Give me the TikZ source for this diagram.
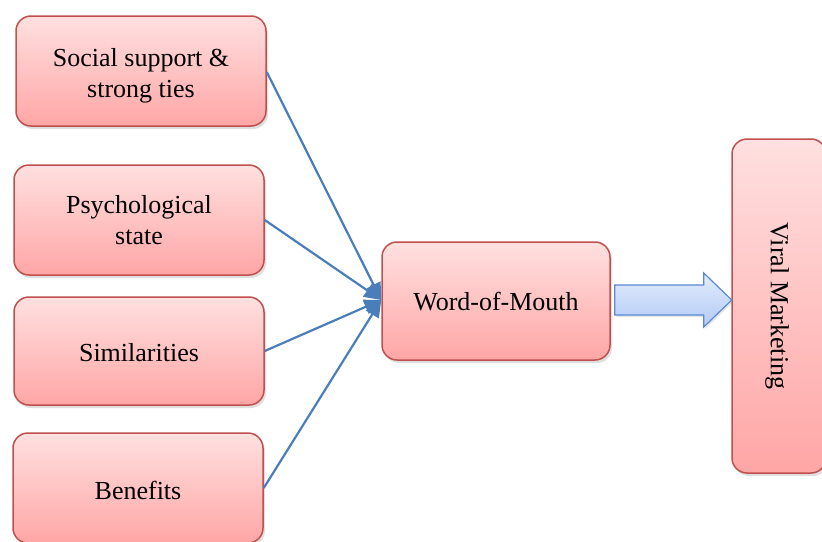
\documentclass[tikz,border=0pt]{standalone}
\usepackage{fontspec}
\setmainfont{Liberation Serif}
\usetikzlibrary{shadows,arrows.meta,calc}
\definecolor{boxborder}{HTML}{C0504D}
\definecolor{boxtop}{HTML}{FFE0E0}
\definecolor{boxbot}{HTML}{FFA6A6}
\definecolor{linkblue}{HTML}{4A7EBB}
\definecolor{arrtop}{HTML}{E3ECFC}
\definecolor{arrbot}{HTML}{B2CAF6}
\definecolor{arrborder}{HTML}{5A8AD0}
\newcommand{\shiftdown}[2]{\raisebox{-#1}[\height][\depth]{#2}}
\newcommand{\twolines}[2]{\begin{tabular}{@{}c@{}}#1\\#2\end{tabular}}
\tikzset{
  pinkbox/.style={draw=boxborder, line width=1.5pt, rounded corners=15pt,
    top color=boxtop, bottom color=boxbot, align=center,
    font=\fontsize{26}{31}\selectfont,
    drop shadow={opacity=0.25, shadow xshift=2pt, shadow yshift=-3pt},
    minimum width=250pt, minimum height=110pt, inner sep=0pt},
  link/.style={draw=linkblue, line width=2.2pt, -{Triangle[length=17pt,width=15pt]}},
  blockarrow/.style={draw=arrborder, line width=1.2pt, top color=arrtop, bottom color=arrbot,
    drop shadow={opacity=0.2, shadow xshift=1.5pt, shadow yshift=-2pt}}
}
\begin{document}
\begin{tikzpicture}[x=1pt,y=-1pt]
\useasboundingbox (0,0) rectangle (822,541);
\begin{scope}
\clip (0,0) rectangle (822,541);
\node[pinkbox] (s1) at (141,71) {\shiftdown{5pt}{\twolines{Social support \&}{strong ties}}};
\node[pinkbox] (s2) at (139,220) {\shiftdown{3pt}{\twolines{Psychological}{state}}};
\node[pinkbox, minimum height=108pt] (s3) at (139,351) {\shiftdown{2pt}{Similarities}};
\node[pinkbox] (s4) at (138,488) {\shiftdown{2pt}{Benefits}};
\node[pinkbox, minimum width=228pt, minimum height=118pt] (wom) at (496,301) {\shiftdown{1pt}{Word-of-Mouth}};
\node[pinkbox, minimum width=334pt, minimum height=94pt, rotate=-90] (vm) at (779,306) {\shiftdown{2pt}{Viral Marketing}};
\coordinate (tip) at ($(wom.west)+(0,-1)$);
\draw[link] (s1.east |- 0,72) -- (tip);
\draw[link] (s2.east) -- (tip);
\draw[link] (s3.east) -- (tip);
\draw[link] (s4.east) -- (tip);
\path[blockarrow] ($(wom.east)+(4,-16)$) -- ++(89,0) -- ++(0,-12) -- ++(28,27) -- ++(-28,27) -- ++(0,-12) -- ++(-89,0) -- cycle;
\end{scope}
\end{tikzpicture}
\end{document}
